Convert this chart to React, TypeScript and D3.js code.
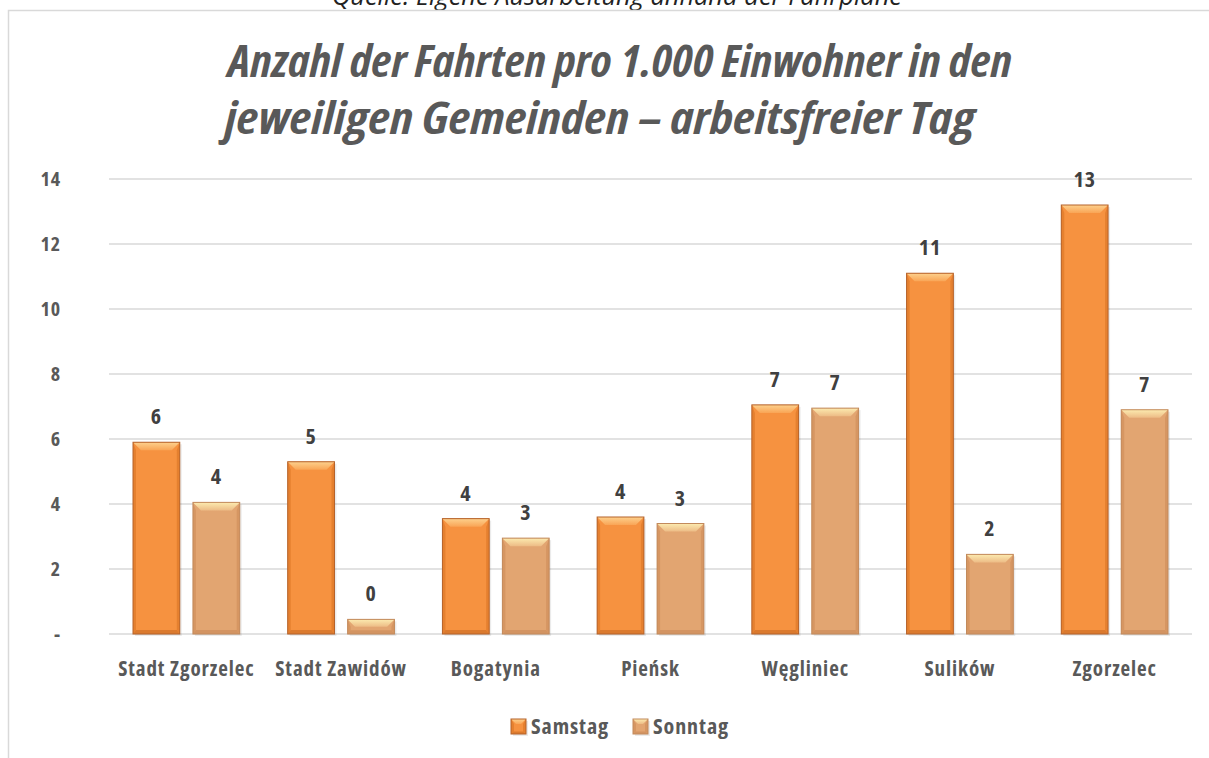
import React from 'react';
import * as d3 from 'd3';

const categories = ['Stadt Zgorzelec', 'Stadt Zawidów', 'Bogatynia', 'Pieńsk', 'Węgliniec', 'Sulików', 'Zgorzelec'];
const samstag = [5.9, 5.3, 3.55, 3.6, 7.05, 11.1, 13.2];
const sonntag = [4.05, 0.45, 2.95, 3.4, 6.95, 2.45, 6.9];
const seriesNames = ['Samstag', 'Sonntag'];
const yTicks = [0, 2, 4, 6, 8, 10, 12, 14];

const W = 1209;
const H = 758;
const margin = { left: 109, right: 17, top: 179, bottom: 124 };
const FONT = "'Open Sans', 'DejaVu Sans Condensed', sans-serif";
const GREY = '#595959';
const COND = { fontStretch: '75%', letterSpacing: '0.9px' };

const palettes = [
  { base: '#F69240', light: '#FDD18D', lightEnd: '#F9A556', side: '#E5802F', bottom: '#DB7A2E', edge: '#B5622A' },
  { base: '#E2A571', light: '#FCEBB0', lightEnd: '#EDBC86', side: '#D69662', bottom: '#D39462', edge: '#C28A5C' },
];

function BevelBar({ x, y, w, h, p, bev = 8 }: { x: number; y: number; w: number; h: number; p: typeof palettes[0]; bev?: number }) {
  const b = Math.min(bev, h / 2);
  const s = Math.min(3, w / 4);
  return (
    <g>
      <rect x={x + 2} y={y + 2} width={w} height={h} fill="#000" opacity={0.08} />
      <rect x={x} y={y} width={w} height={h} fill={p.base} />
      <polygon points={`${x},${y} ${x + s},${y + b} ${x + s},${y + h - b / 2} ${x},${y + h}`} fill={p.side} />
      <polygon points={`${x + w},${y} ${x + w - s},${y + b} ${x + w - s},${y + h - b / 2} ${x + w},${y + h}`} fill={p.side} />
      <polygon points={`${x},${y + h} ${x + s},${y + h - b / 2} ${x + w - s},${y + h - b / 2} ${x + w},${y + h}`} fill={p.bottom} />
      <polygon points={`${x},${y} ${x + w},${y} ${x + w - b},${y + b} ${x + b},${y + b}`} fill={`url(#top-${p.base.slice(1)})`} />
      <rect x={x} y={y} width={w} height={h} fill="none" stroke={p.edge} strokeWidth={1} />
    </g>
  );
}

export default function App() {
  const innerW = W - margin.left - margin.right;
  const x0 = d3.scaleBand<string>().domain(categories).range([margin.left, margin.left + innerW]).paddingInner(0).paddingOuter(0);
  const x1 = d3.scaleBand<string>().domain(seriesNames).range([24, x0.bandwidth() - 24]).paddingInner(0.22);
  const y = d3.scaleLinear().domain([0, 14]).range([H - margin.bottom, margin.top]);
  const series = [samstag, sonntag];

  return (
    <svg width={W} height={H} style={{ position: 'absolute', left: 0, top: 0, background: '#fff' }}>
      <defs>
        {palettes.map((p) => (
          <linearGradient key={p.base} id={`top-${p.base.slice(1)}`} x1="0" y1="0" x2="0" y2="1">
            <stop offset="0" stopColor={p.light} />
            <stop offset="1" stopColor={p.lightEnd} />
          </linearGradient>
        ))}
      </defs>
      <text x={617} y={5} textAnchor="middle" fontFamily={FONT} fontStyle="italic" fontSize={25} fill="#222" textLength={570} lengthAdjust="spacingAndGlyphs">
        Quelle: Eigene Ausarbeitung anhand der Fahrpläne
      </text>
      <rect x={8.5} y={10.5} width={1220} height={780} fill="#fff" stroke="#D9D9D9" strokeWidth={1.5} />

      <g fontFamily={FONT} fontWeight="bold" fontStyle="italic" fontSize={44} fill={GREY} textAnchor="middle" style={{ fontStretch: '75%' }}>
        <text x={620} y={77} textLength={784} lengthAdjust="spacingAndGlyphs">Anzahl der Fahrten pro 1.000 Einwohner in den</text>
        <text x={600} y={134} textLength={750} lengthAdjust="spacingAndGlyphs">jeweiligen Gemeinden – arbeitsfreier Tag</text>
      </g>

      {yTicks.map((t) => (
        <g key={t}>
          <line x1={margin.left} x2={W - margin.right} y1={y(t)} y2={y(t)} stroke="#D9D9D9" strokeWidth={1.5} />
          <text x={61} y={y(t)} dy="0.35em" textAnchor="end" fontFamily={FONT} fontWeight="bold" fontSize={20} fill={GREY} style={COND}>
            {t === 0 ? '-' : t}
          </text>
        </g>
      ))}

      {categories.map((c, ci) => (
        <g key={c}>
          {series.map((vals, si) => {
            const bx = (x0(c) ?? 0) + (x1(seriesNames[si]) ?? 0);
            const bw = x1.bandwidth();
            const by = y(vals[ci]);
            const bh = y(0) - by;
            return (
              <g key={si}>
                <BevelBar x={bx} y={by} w={bw} h={bh} p={palettes[si]} />
                <text x={bx + bw / 2} y={by - 18} textAnchor="middle" fontFamily={FONT} fontWeight="bold" fontSize={22} fill="#404040" style={COND}>
                  {Math.round(vals[ci])}
                </text>
              </g>
            );
          })}
          <text x={(x0(c) ?? 0) + x0.bandwidth() / 2} y={676} textAnchor="middle" fontFamily={FONT} fontWeight="bold" fontSize={21} fill={GREY} style={COND}>
            {c}
          </text>
        </g>
      ))}

      {seriesNames.map((n, i) => {
        const lx = [511, 633][i];
        return (
          <g key={n}>
            <BevelBar x={lx} y={719} w={15} h={15} p={palettes[i]} bev={5} />
            <text x={lx + 20} y={734} fontFamily={FONT} fontWeight="bold" fontSize={22} fill={GREY} style={COND}>
              {n}
            </text>
          </g>
        );
      })}
    </svg>
  );
}
